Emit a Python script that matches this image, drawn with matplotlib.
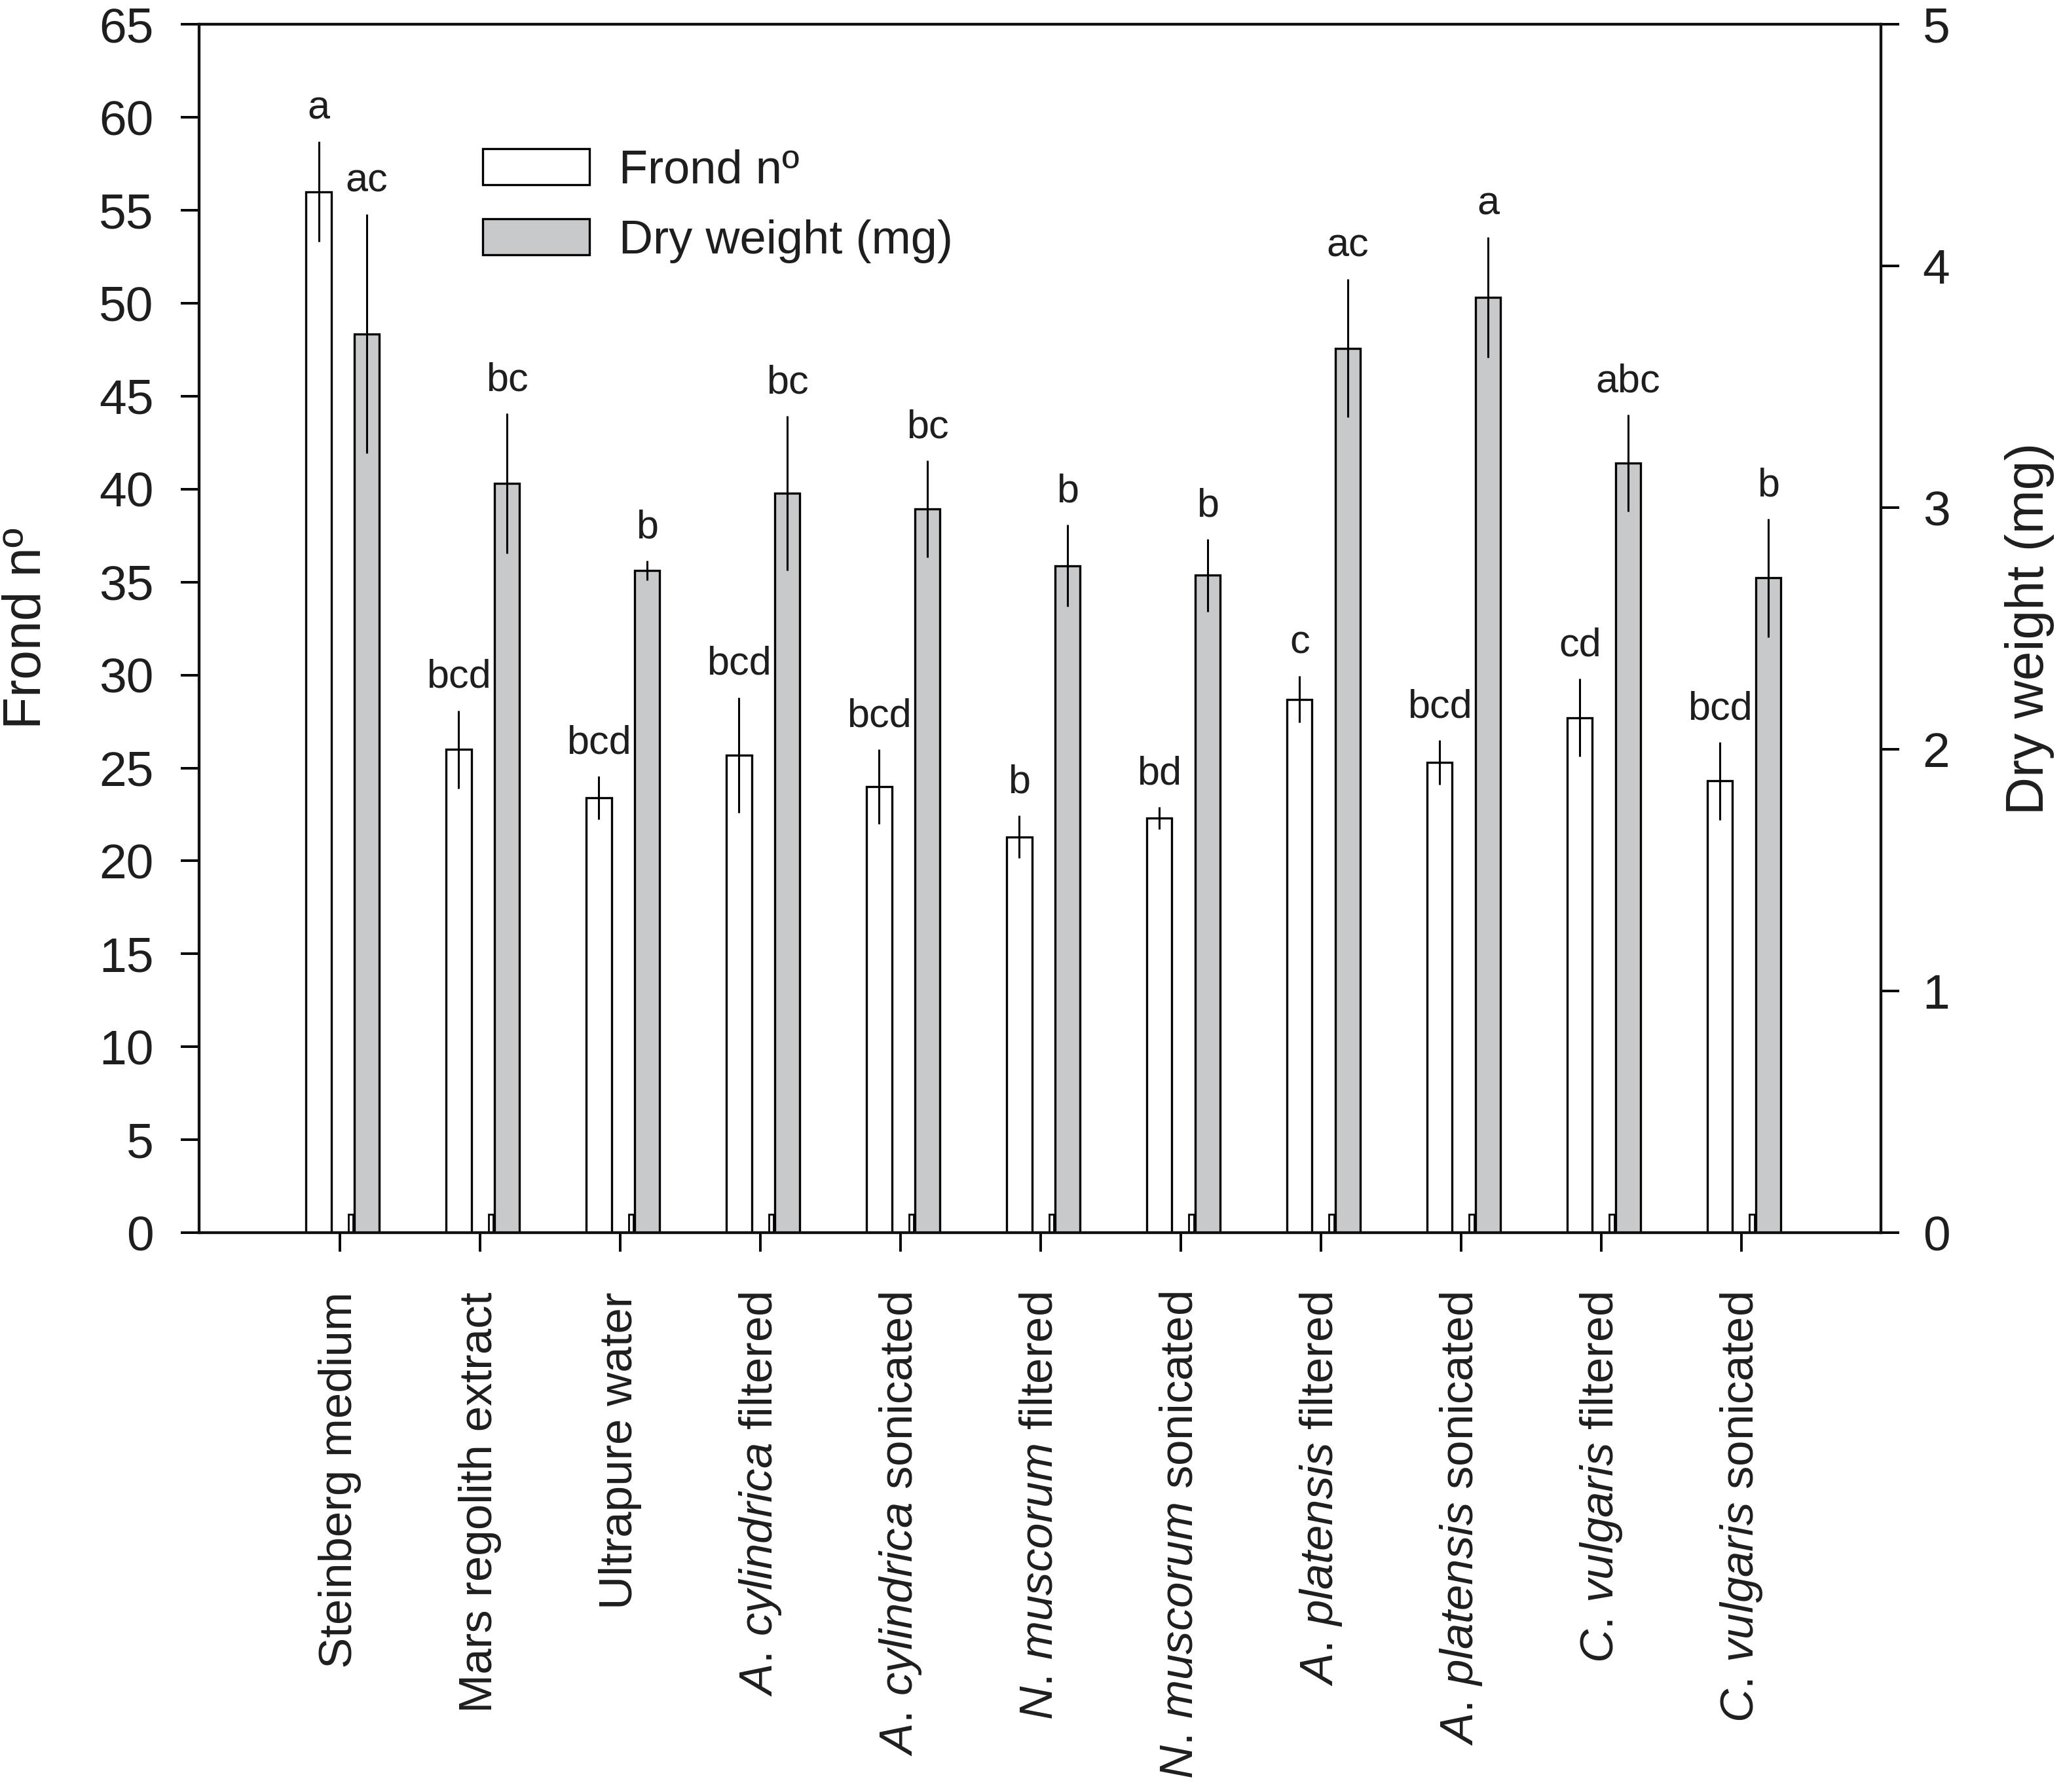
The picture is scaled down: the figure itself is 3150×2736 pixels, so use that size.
import matplotlib
matplotlib.use("Agg")
import matplotlib.pyplot as plt
import numpy as np

# ---------------- data ----------------
categories = [
    "Steinberg medium",
    "Mars regolith extract",
    "Ultrapure water",
    r"$\mathit{A.}\,\mathit{cylindrica}$ filtered",
    r"$\mathit{A.}\,\mathit{cylindrica}$ sonicated",
    r"$\mathit{N.}\,\mathit{muscorum}$ filtered",
    r"$\mathit{N.}\,\mathit{muscorum}$ sonicated",
    r"$\mathit{A.}\,\mathit{platensis}$ filtered",
    r"$\mathit{A.}\,\mathit{platensis}$ sonicated",
    r"$\mathit{C.}\,\mathit{vulgaris}$ filtered",
    r"$\mathit{C.}\,\mathit{vulgaris}$ sonicated",
]
frond = [56.0, 26.0, 23.4, 25.7, 24.0, 21.3, 22.3, 28.7, 25.3, 27.7, 24.3]
frond_err = [2.7, 2.1, 1.15, 3.1, 2.0, 1.15, 0.6, 1.25, 1.2, 2.1, 2.1]
frond_letters = ["a", "bcd", "bcd", "bcd", "bcd", "b", "bd", "c", "bcd", "cd", "bcd"]

dry = [3.72, 3.10, 2.74, 3.06, 2.995, 2.76, 2.72, 3.66, 3.87, 3.185, 2.71]
dry_err = [0.495, 0.29, 0.04, 0.32, 0.2, 0.17, 0.15, 0.285, 0.25, 0.2, 0.245]
dry_letters = ["ac", "bc", "b", "bc", "bc", "b", "b", "ac", "a", "abc", "b"]

stub = [1.0] * len(categories)   # small SigmaPlot artefact bar

left_ticks = list(range(0, 66, 5))
right_ticks = [0, 1, 2, 3, 4, 5]

# ---------------- style ----------------
plt.rcParams["font.family"] = ["Liberation Sans", "DejaVu Sans"]
plt.rcParams["mathtext.fontset"] = "custom"
plt.rcParams["mathtext.rm"] = "Liberation Sans"
plt.rcParams["mathtext.it"] = "Liberation Sans:italic"
plt.rcParams["mathtext.bf"] = "Liberation Sans:bold"
TXT = "#1e1e1e"
GREY = "#c8c9cb"

fig = plt.figure(figsize=(15.75, 13.68), dpi=200)
ax = fig.add_axes([0.0965, 0.3121, 0.8152, 0.6743])
ax2 = ax.twinx()

x = np.arange(len(categories))
w = 0.178
xf = x - 0.152
xd = x + 0.192
xs = x + 0.077

ax.bar(xf, frond, width=w, facecolor="white", edgecolor="black", linewidth=1.2, zorder=2,
       label="Frond nº")
ax.bar(xs, stub, width=0.037, facecolor="white", edgecolor="black", linewidth=1.0, zorder=2)
ax.errorbar(xf, frond, yerr=frond_err, fmt="none", ecolor="black", elinewidth=1.1,
            capsize=0, zorder=3)

ax2.bar(xd, dry, width=w, facecolor=GREY, edgecolor="black", linewidth=1.2, zorder=2,
        label="Dry weight (mg)")
ax2.errorbar(xd, dry, yerr=dry_err, fmt="none", ecolor="black", elinewidth=1.1,
             capsize=0, zorder=3)

for xi, v, e, l in zip(xf, frond, frond_err, frond_letters):
    ax.annotate(l, (xi, v + e), xytext=(0, 12.5), textcoords="offset points",
                ha="center", va="baseline", fontsize=22, color=TXT)
for xi, v, e, l in zip(xd, dry, dry_err, dry_letters):
    ax2.annotate(l, (xi, v + e), xytext=(0, 12.5), textcoords="offset points",
                 ha="center", va="baseline", fontsize=22, color=TXT)

ax.set_xlim(-1.005, 10.995)
ax.set_ylim(0, 65)
ax2.set_ylim(0, 5)
ax.set_yticks(left_ticks)
ax2.set_yticks(right_ticks)
ax.set_xticks(x)
ax.set_xticklabels(categories, rotation=90, fontsize=25.5, color=TXT)

ax.tick_params(axis="y", direction="out", length=10, width=1.4, pad=15, labelsize=27,
               labelcolor=TXT)
ax.tick_params(axis="x", direction="out", length=10.5, width=1.4, pad=22)
ax2.tick_params(axis="y", direction="out", length=10, width=1.4, pad=13, labelsize=27,
                labelcolor=TXT)

for a in (ax, ax2):
    for s in a.spines.values():
        s.set_linewidth(1.5)
        s.set_color("#111111")

ax.set_ylabel("Frond nº", fontsize=29, color=TXT, labelpad=26)
ax2.set_ylabel("Dry weight (mg)", fontsize=29, color=TXT, labelpad=30)

h1, l1 = ax.get_legend_handles_labels()
h2, l2 = ax2.get_legend_handles_labels()
leg = ax2.legend(h1 + h2, l1 + l2, loc="upper left", bbox_to_anchor=(0.1686, 0.897),
                 frameon=False, fontsize=26, handlelength=2.26, handleheight=0.8,
                 handletextpad=0.62, labelspacing=0.54, borderpad=0, borderaxespad=0)
for t in leg.get_texts():
    t.set_color(TXT)

fig.savefig("out.png", dpi=200, facecolor="white")
